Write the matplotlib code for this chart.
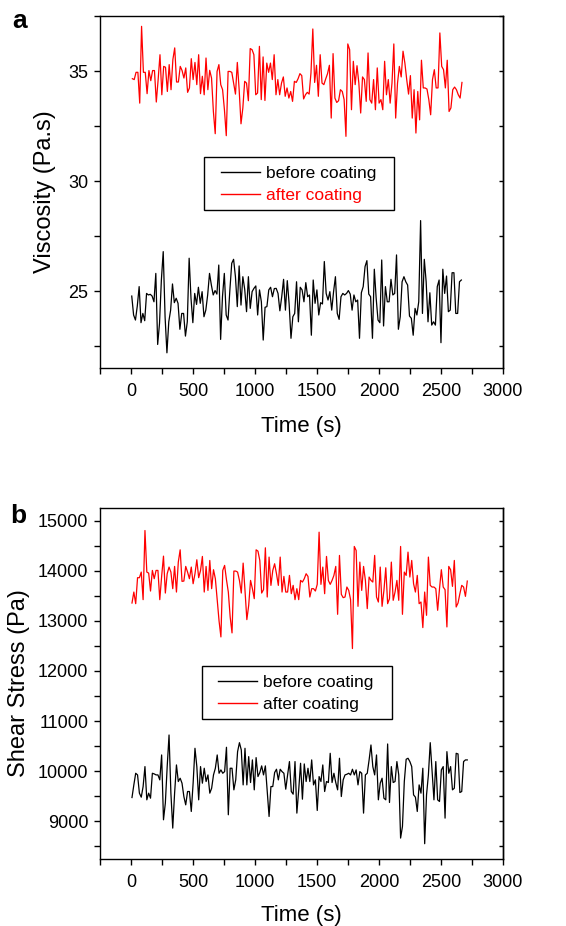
import numpy as np
import matplotlib
matplotlib.use("Agg")
import matplotlib.pyplot as plt
from matplotlib.ticker import MultipleLocator
from matplotlib.lines import Line2D
from matplotlib.patches import Rectangle

plt.rcParams['font.family'] = ['Liberation Sans', 'DejaVu Sans']

# ---------------- Data ----------------
visc_after = [
    34.65, 34.61, 34.94, 34.94, 33.54, 37.03, 34.94, 34.94, 33.97, 35.02,
    34.56, 35.02, 35.02, 33.59, 34.61, 35.74, 33.92, 35.21, 35.17, 34.07,
    35.29, 34.15, 35.52, 36.05, 34.50, 34.50, 35.21, 35.02, 34.68, 35.14,
    34.03, 34.23, 35.56, 34.61, 35.39, 34.38, 35.74, 33.97, 34.76, 33.92,
    35.59, 34.15, 35.03, 34.68, 33.16, 32.15, 34.98, 35.29, 34.38, 34.15,
    33.24, 32.06, 34.98, 34.98, 34.94, 34.45, 33.95, 35.39, 34.15, 32.60,
    33.32, 34.53, 34.45, 33.65, 36.02, 35.97, 35.74, 33.92, 34.00, 36.12,
    33.70, 35.64, 33.66, 35.36, 34.94, 35.36, 34.61, 35.74, 33.92, 34.61,
    33.92, 34.45, 34.73, 33.85, 34.23, 33.77, 34.07, 33.62, 34.53, 34.48,
    34.65, 34.88, 34.79, 33.73, 33.92, 34.03, 33.95, 34.91, 36.91, 34.48,
    35.26, 33.85, 35.74, 34.45, 34.38, 34.64, 34.88, 35.26, 32.86, 35.79,
    33.77, 33.57, 33.65, 34.15, 34.07, 33.70, 32.03, 36.23, 35.97, 33.24,
    35.44, 34.38, 35.24, 34.45, 33.09, 34.73, 34.61, 33.62, 35.82, 33.70,
    33.54, 34.61, 33.24, 35.14, 33.54, 33.70, 33.24, 35.44, 33.92, 34.61,
    33.54, 34.45, 36.23, 32.86, 34.45, 35.21, 34.73, 35.90, 35.36, 34.61,
    33.95, 34.79, 32.86, 34.15, 32.18, 34.07, 32.78, 35.49, 34.23, 34.23,
    34.18, 33.70, 33.01, 34.61, 35.06, 34.23, 34.23, 36.73, 35.21, 35.06,
    34.23, 35.49, 33.16, 33.32, 34.15, 34.27, 34.15, 33.92, 33.77, 34.48,
]

visc_before = [
    24.77, 23.91, 23.68, 24.32, 25.20, 23.56, 23.98, 23.65, 24.89, 24.82,
    24.85, 24.77, 24.51, 25.80, 22.57, 23.53, 25.50, 26.79, 23.83, 22.19,
    23.60, 24.13, 25.32, 24.47, 24.67, 24.44, 23.26, 23.98, 23.98, 22.95,
    23.60, 26.49, 24.67, 23.56, 24.89, 24.39, 25.17, 24.44, 24.97, 23.83,
    24.13, 24.82, 25.80, 25.27, 24.82, 25.02, 24.86, 26.18, 22.80, 24.74,
    25.80, 23.91, 23.68, 25.05, 26.26, 26.44, 25.65, 24.29, 26.14, 24.36,
    25.65, 25.08, 24.06, 25.65, 24.21, 24.97, 25.12, 25.23, 23.91, 25.05,
    24.51, 22.77, 24.26, 24.29, 25.05, 25.17, 24.74, 25.11, 25.12, 24.89,
    24.10, 24.74, 25.53, 24.13, 25.47, 24.41, 22.85, 23.83, 23.98, 25.42,
    23.60, 25.17, 25.05, 24.51, 25.38, 24.74, 24.82, 22.99, 25.50, 24.44,
    25.05, 23.91, 24.47, 24.41, 26.34, 24.89, 24.59, 24.97, 24.13, 24.97,
    25.65, 23.98, 23.71, 24.74, 24.89, 24.82, 24.89, 25.02, 24.86, 24.13,
    24.82, 24.51, 24.59, 22.85, 24.92, 25.20, 26.11, 26.38, 24.86, 24.74,
    22.85, 25.99, 24.67, 23.68, 23.56, 26.41, 23.41, 25.20, 24.51, 24.51,
    25.53, 24.82, 24.89, 26.64, 23.26, 23.83, 25.42, 25.65, 25.42, 25.27,
    23.86, 23.76, 22.99, 24.21, 23.91, 24.51, 28.20, 23.98, 26.44, 25.42,
    23.60, 24.92, 23.45, 23.60, 23.45, 25.20, 25.50, 22.65, 25.99, 24.89,
    25.68, 24.06, 24.13, 25.83, 25.83, 23.98, 23.98, 25.42, 25.50,
]

stress_after = [
    13355, 13574, 13342, 13860, 13860, 13972, 13422, 14801, 13972, 13952,
    13594, 14005, 13840, 14005, 14005, 13422, 13886, 14290, 13554, 13939,
    14072, 13972, 13641, 14085, 13574, 14171, 14416, 13787, 13793, 14085,
    13972, 13840, 14072, 13740, 13939, 14218, 13860, 14005, 14284, 13574,
    14085, 13607, 14204, 13641, 14019, 13840, 13409, 12997, 12679, 14005,
    14105, 13820, 13574, 13077, 12759, 13992, 13992, 13972, 13806, 13554,
    14151, 13607, 13024, 13309, 13806, 13641, 13442, 14416, 14390, 14204,
    13554, 13621, 14456, 13475, 14271, 13707, 14005, 14138, 13939, 13707,
    14271, 13574, 13886, 13574, 13574, 13906, 13541, 13707, 13422, 13641,
    13422, 13806, 13773, 13840, 13939, 13886, 13475, 13641, 13641, 13594,
    13727, 14768, 13727, 14072, 13541, 14284, 13806, 13727, 13806, 13906,
    14085, 13130, 14304, 13528, 13462, 13475, 13674, 13607, 13422, 12447,
    14483, 14403, 13289, 14171, 13607, 14085, 13806, 13243, 13873, 13806,
    13773, 14304, 13475, 13375, 14072, 13289, 13607, 14058, 13342, 13442,
    14171, 13409, 13574, 13806, 13409, 14483, 13130, 13972, 13906, 14370,
    13873, 14204, 13740, 13574, 13906, 13342, 13375, 12865, 13574, 13110,
    14271, 13707, 13674, 13674, 13641, 13210, 13641, 14019, 13674, 13621,
    12878, 14085, 14019, 13687, 14204, 13276, 13355, 13541, 13707, 13674,
    13488, 13793,
]

stress_before = [
    9476, 9728, 9960, 9927, 9563, 9483, 9695, 10093, 9430, 9563,
    9463, 9960, 9947, 9927, 9927, 9828, 10325, 9032, 9364, 10093,
    10723, 9563, 8866, 9563, 10126, 9795, 9861, 9762, 9496, 9330,
    9596, 9596, 9198, 9762, 10458, 10093, 9430, 10093, 9762, 10060,
    9795, 9927, 9563, 9662, 9927, 10060, 10325, 9960, 10027, 9960,
    9993, 10478, 9132, 10060, 10060, 9629, 9828, 10391, 10570, 10425,
    9728, 10458, 9728, 10292, 9775, 10226, 9629, 10272, 9894, 9974,
    10107, 9927, 10107, 9596, 9098, 9695, 9695, 9974, 10040, 9828,
    10040, 9993, 9960, 9642, 9927, 10193, 9596, 9543, 10193, 9165,
    9629, 10159, 9443, 10146, 9795, 10060, 9795, 10226, 9728, 9828,
    9218, 9894, 9795, 10126, 9596, 9795, 9775, 10358, 9775, 9960,
    9775, 9629, 10259, 9496, 9828, 9927, 9940, 9960, 9927, 10040,
    9927, 10027, 9728, 9993, 9960, 9165, 9927, 9960, 10226, 10524,
    10093, 9927, 10325, 9430, 9762, 9861, 9463, 9430, 10544, 9377,
    10093, 9775, 9795, 10193, 9927, 8667, 8900, 9795, 10239, 10259,
    10193, 10093, 9529, 9483, 9198, 9728, 9563, 10060, 8555, 9529,
    9927, 10570, 9993, 9430, 10193, 9430, 9397, 10027, 10093, 9065,
    10391, 9960, 10093, 9629, 9662, 10358, 10345, 9576, 9596, 10193,
    10226, 10226,
]

# sampling times (s): regular measurement grid
t_visc_after = np.linspace(11, 2669, len(visc_after))
t_visc_before = np.linspace(6, 2664, len(visc_before))
t_stress_after = np.linspace(8, 2712, len(stress_after))
t_stress_before = np.linspace(8, 2712, len(stress_before))

legend_labels = ["before coating", "after coating"]
x_ticks = [0, 500, 1000, 1500, 2000, 2500, 3000]

# ---------------- Figure ----------------
fig = plt.figure(figsize=(5.66, 9.26), dpi=100)
W, H = 566.0, 926.0


def px_axes(l, t, r, b):
    return fig.add_axes([l / W, 1 - b / H, (r - l) / W, (b - t) / H])


def style(ax, ymaj, ymin):
    ax.set_xlim(-250, 3000)
    ax.set_xticks(x_ticks)
    ax.xaxis.set_minor_locator(MultipleLocator(250))
    ax.yaxis.set_major_locator(MultipleLocator(ymaj))
    ax.yaxis.set_minor_locator(MultipleLocator(ymin))
    ax.tick_params(axis='x', which='both', direction='out', length=4.5,
                   width=1, top=False, labelsize=13, pad=6, colors='black')
    ax.tick_params(axis='y', which='both', direction='out', length=4.5,
                   width=1, right=False, labelsize=13, pad=4, colors='black')
    for s in ax.spines.values():
        s.set_linewidth(1.0)
        s.set_color('black')
    sec = ax.secondary_yaxis('right')
    sec.yaxis.set_major_locator(MultipleLocator(ymaj))
    sec.yaxis.set_minor_locator(MultipleLocator(ymin))
    sec.tick_params(axis='y', which='both', direction='in', length=3,
                    width=1, labelright=False)
    sec.spines['right'].set_linewidth(1.0)


def add_legend(ax, ax_px, box_px, handle_x, mid_y, red_text):
    l, t, r, b = ax_px
    aw, ah = r - l, b - t
    bl, bt, br, bb = box_px
    handles = [Line2D([], [], color='black', lw=1.0),
               Line2D([], [], color='#ff0000', lw=1.0)]
    leg = ax.legend(handles, legend_labels, loc='center left',
                    bbox_to_anchor=((handle_x - l) / aw, 1 - (mid_y - t) / ah),
                    borderaxespad=0, borderpad=0, fontsize=12.5, frameon=False,
                    handlelength=2.25, handletextpad=0.35, labelspacing=0.35)
    if red_text:
        leg.get_texts()[1].set_color('#ff0000')
    ax.add_patch(Rectangle(((bl - l) / aw, 1 - (bb - t) / ah),
                           (br - bl) / aw, (bb - bt) / ah,
                           transform=ax.transAxes, fill=False,
                           edgecolor='black', lw=1.0, zorder=5))


# ----- panel a -----
A_PX = (100, 16, 503, 368)
ax1 = px_axes(*A_PX)
ax1.plot(t_visc_before, visc_before, color='black', lw=0.9)
ax1.plot(t_visc_after, visc_after, color='#ff0000', lw=0.9)
ax1.set_ylim(21.5, 37.5)
style(ax1, 5, 2.5)
ax1.set_xlabel("Time (s)", fontsize=16)
ax1.xaxis.set_label_coords(0.5, -0.135)
ax1.set_ylabel("Viscosity (Pa.s)", fontsize=17)
ax1.yaxis.set_label_coords(-0.110, 0.5)
add_legend(ax1, A_PX, (204, 157, 394, 210), 221, 184.5, True)

# ----- panel b -----
B_PX = (100, 508, 503, 859)
ax2 = px_axes(*B_PX)
ax2.plot(t_stress_before, stress_before, color='black', lw=0.9)
ax2.plot(t_stress_after, stress_after, color='#ff0000', lw=0.9)
ax2.set_ylim(8250, 15250)
style(ax2, 1000, 500)
ax2.set_xlabel("Time (s)", fontsize=16)
ax2.xaxis.set_label_coords(0.5, -0.131)
ax2.set_ylabel("Shear Stress (Pa)", fontsize=17)
ax2.yaxis.set_label_coords(-0.173, 0.5)
add_legend(ax2, B_PX, (202, 666, 392, 719), 218, 693.5, False)

# panel letters
fig.text(12 / W, 1 - 28 / H, "a", fontsize=19, fontweight='bold',
         va='baseline', ha='left')
fig.text(10 / W, 1 - 523 / H, "b", fontsize=19, fontweight='bold',
         va='baseline', ha='left')

fig.savefig("out.png", dpi=100)
